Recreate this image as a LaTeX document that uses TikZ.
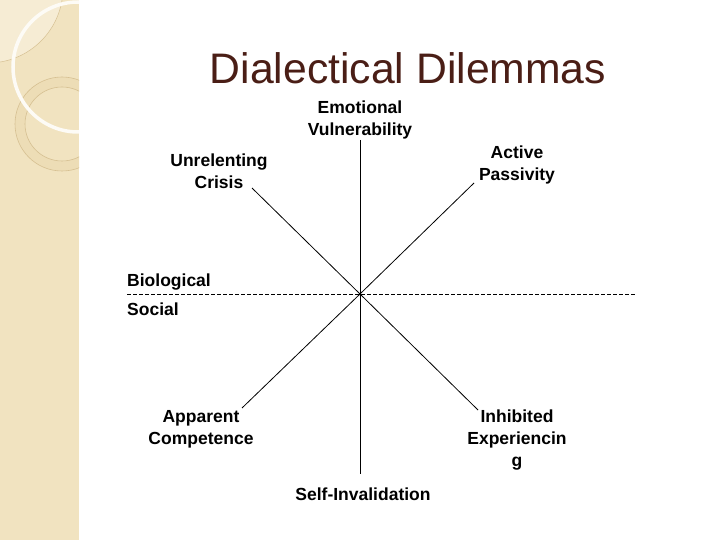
\documentclass[tikz,border=0pt]{standalone}
\usepackage{fontspec}
\setmainfont{Liberation Sans}
\usetikzlibrary{positioning}
\definecolor{bandcol}{RGB}{241,227,192}
\definecolor{lightcol}{RGB}{246,236,212}
\definecolor{ringcol}{RGB}{237,221,182}
\definecolor{ringline}{RGB}{214,192,146}
\definecolor{titlecol}{RGB}{74,30,22}

\begin{document}
\begin{tikzpicture}[x=1pt, y=-1pt,
  lbl/.style={font=\bfseries\fontsize{17.5}{22}\selectfont, align=center, inner sep=0pt},
  axisline/.style={draw, line width=0.8pt},
  splitline/.style={draw, line width=0.8pt, dash pattern=on 4pt off 2pt}
]
\useasboundingbox (0,0) rectangle (720,540);
% side band
\fill[bandcol] (0,0) rectangle (79,540);
\begin{scope}
  \clip (0,0) rectangle (79,540);
  \fill[lightcol] (-12,-12) circle (75);
  \draw[ringline, line width=0.5pt] (-12,-12) circle (75);
  \fill[ringcol, even odd rule] (62,124) circle (47) (62,124) circle (37);
  \draw[ringline, line width=0.6pt] (62,124) circle (47) (62,124) circle (37);
  \draw[white!85!bandcol, line width=3.5pt] (78,67) circle (65);
\end{scope}
% title
\node[font=\fontsize{42.7}{50}\selectfont, text=titlecol, inner sep=0pt] (title) at (408,68) {Dialectical Dilemmas};
% axes
\coordinate (c) at (360,294);
\coordinate (top) at (360,140);
\coordinate (bot) at (360,474);
\coordinate (lft) at (127,294);
\coordinate (rgt) at (636,294);
\coordinate (ne) at (474,183);
\coordinate (nw) at (252,188);
\coordinate (sw) at (242,408);
\coordinate (se) at (478,410);
\draw[axisline] (top) -- (bot);
\draw[splitline] (lft) -- (rgt);
\draw[axisline] (c) -- (ne);
\draw[axisline] (c) -- (nw);
\draw[axisline] (c) -- (sw);
\draw[axisline] (c) -- (se);
% labels
\node[lbl] (emo) at (360,120) {Emotional\\Vulnerability};
\node[lbl] (act) at (517,165) {Active\\Passivity};
\node[lbl] (unr) at (219,171) {Unrelenting\\Crisis};
\node[lbl, anchor=west] (bio) at (127,282) {Biological};
\node[lbl, anchor=west] (soc) at (127,309) {Social};
\node[lbl] (app) at (201,429) {Apparent\\Competence};
\node[lbl] (inh) at (517,440) {Inhibited\\Experiencin\\g};
\node[lbl] (self) at (363,494) {Self-Invalidation};
\end{tikzpicture}
\end{document}
